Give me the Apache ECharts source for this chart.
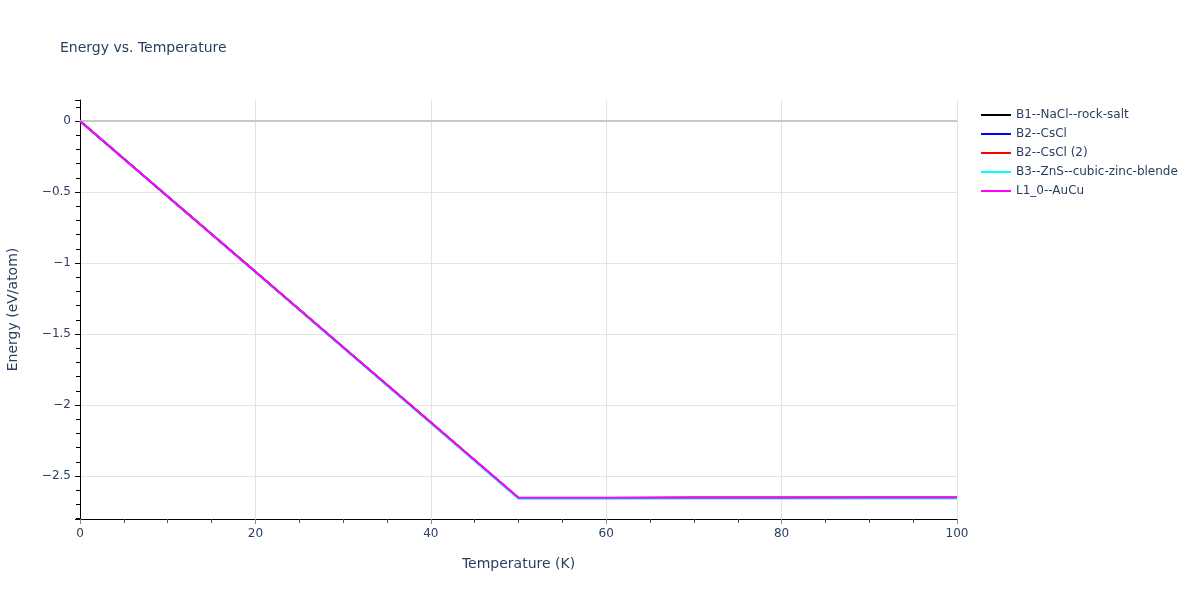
<!DOCTYPE html>
<html><head><meta charset="utf-8">
<script src="https://cdn.jsdelivr.net/npm/echarts@6/dist/echarts.min.js"></script>
<style>html,body{margin:0;padding:0;background:#fff}#c{width:1200px;height:600px}</style>
</head><body><div id="c"></div>
<script>
const temperatures = [0, 10, 20, 30, 40, 50, 60, 70, 80, 90, 100];
const seriesNames = ['B1--NaCl--rock-salt', 'B2--CsCl', 'B2--CsCl (2)', 'B3--ZnS--cubic-zinc-blende', 'L1_0--AuCu'];
const seriesColors = ['#000000', '#0000ff', '#ff0000', '#00ffff', '#ff00ff'];
const energyB1 = [0, -0.531, -1.062, -1.593, -2.124, -2.655, -2.655, -2.654, -2.654, -2.653, -2.653];
const energyB2 = [0, -0.531, -1.062, -1.593, -2.124, -2.655, -2.655, -2.654, -2.654, -2.653, -2.653];
const energyB2b = [0, -0.531, -1.062, -1.593, -2.124, -2.655, -2.655, -2.654, -2.654, -2.653, -2.653];
const energyB3 = [0, -0.532, -1.064, -1.596, -2.128, -2.660, -2.660, -2.659, -2.659, -2.658, -2.658];
const energyL10 = [0, -0.531, -1.062, -1.593, -2.124, -2.654, -2.654, -2.653, -2.653, -2.652, -2.652];
const allEnergy = [energyB1, energyB2, energyB2b, energyB3, energyL10];

const font = '"DejaVu Sans", Verdana, sans-serif';
const txt = '#2a3f5f';
const chart = echarts.init(document.getElementById('c'));
chart.setOption({
  animation: false,
  backgroundColor: '#fff',
  title: { text: 'Energy vs. Temperature', left: 55, top: 36, textStyle: { fontFamily: font, fontSize: 14, fontWeight: 'normal', color: txt } },
  legend: {
    orient: 'vertical', left: 976, top: 104, itemGap: 7, itemWidth: 30, itemHeight: 14,
    icon: 'path://M0,6 L30,6 L30,8 L0,8 Z',
    textStyle: { fontFamily: font, fontSize: 12, color: txt },
    data: seriesNames
  },
  grid: { left: 80, right: 243, top: 100, bottom: 81, containLabel: false, outerBoundsMode: 'none' },
  xAxis: {
    type: 'value', min: 0, max: 100, interval: 20,
    name: 'Temperature (K)', nameLocation: 'middle', nameGap: 38,
    nameTextStyle: { fontFamily: font, fontSize: 14, color: txt },
    axisLine: { show: true, onZero: false, lineStyle: { color: '#000', width: 1 } },
    axisTick: { show: true, length: 5, lineStyle: { color: '#888' } },
    minorTick: { show: true, splitNumber: 4, length: 4, lineStyle: { color: '#555' } },
    axisLabel: { fontFamily: font, fontSize: 12, color: txt, margin: 9 },
    splitLine: { show: true, showMinLine: false, lineStyle: { color: '#e3e3e3', width: 1 } }
  },
  yAxis: {
    type: 'value', min: -2.803, max: 0.148, splitNumber: 6,
    name: 'Energy (eV/atom)', nameLocation: 'middle', nameGap: 60,
    nameTextStyle: { fontFamily: font, fontSize: 14, color: txt },
    axisLine: { show: true, onZero: false, lineStyle: { color: '#000', width: 1 } },
    axisTick: { show: true, length: 5, lineStyle: { color: '#000' } },
    minorTick: { show: true, splitNumber: 5, length: 4, lineStyle: { color: '#000' } },
    axisLabel: { fontFamily: font, fontSize: 12, color: txt, margin: 9, showMinLabel: false, showMaxLabel: false,
      formatter: v => (v === 0 ? '0' : String(v).replace('-', '\u2212')) },
    splitLine: { show: true, showMinLine: false, showMaxLine: false, lineStyle: { color: '#e3e3e3', width: 1 } }
  },
  series: seriesNames.map((n, i) => ({
    name: n, type: 'line', showSymbol: false, symbol: 'none',
    lineStyle: { width: 2, color: seriesColors[i] }, itemStyle: { color: seriesColors[i] },
    data: temperatures.map((t, j) => [t, allEnergy[i][j]]),
    markLine: i === 0 ? { silent: true, symbol: 'none', label: { show: false },
      lineStyle: { color: '#c8c8c8', type: 'solid', width: 2 }, data: [{ yAxis: 0 }] } : undefined,
    z: 2 + i
  }))
});
</script></body></html>
